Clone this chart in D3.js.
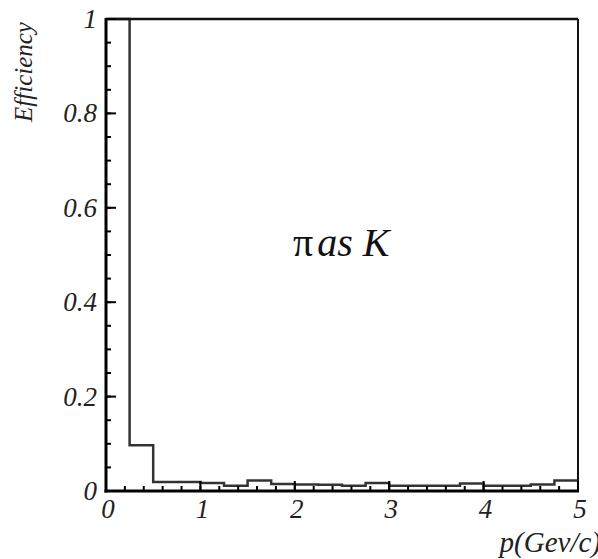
<!DOCTYPE html>
<meta charset="utf-8">
<title>pi as K efficiency</title>
<style>
  body { margin: 0; background: #fff; }
</style>
<body>
<script src="https://cdn.jsdelivr.net/npm/d3@7"></script>
<script>
// histogram, bins of 0.25 GeV/c from 0 to 5
var binStart = [0, 0.25, 0.5, 0.75, 1, 1.25, 1.5, 1.75, 2, 2.25,
                2.5, 2.75, 3, 3.25, 3.5, 3.75, 4, 4.25, 4.5, 4.75];
var efficiency = [1.0, 0.097, 0.019, 0.019, 0.017, 0.011, 0.022, 0.015, 0.014, 0.013,
                  0.011, 0.017, 0.011, 0.011, 0.011, 0.016, 0.011, 0.011, 0.014, 0.022];
var binWidth = 0.25;
var xTicks = [0, 1, 2, 3, 4, 5];
var yTicks = [0, 0.2, 0.4, 0.6, 0.8, 1];
var yLabels = ['0', '0.2', '0.4', '0.6', '0.8', '1'];

var W = 598, H = 559;
var pLeft = 106, pRight = 578, pTop = 19, pBottom = 491;
var serif = '"Liberation Serif", "Times New Roman", Times, serif';

var svg = d3.select('body').append('svg')
  .attr('width', W)
  .attr('height', H);

var x = d3.scaleLinear().domain([0, 5]).range([pLeft, pRight]);
var y = d3.scaleLinear().domain([0, 1]).range([pBottom, pTop]);

// histogram outline
var pts = binStart.map(function(d, i) { return [d, efficiency[i]]; });
pts.push([binStart[binStart.length - 1] + binWidth, efficiency[efficiency.length - 1]]);
var step = d3.line()
  .x(function(d) { return x(d[0]); })
  .y(function(d) { return y(d[1]); })
  .curve(d3.curveStepAfter);
svg.append('path')
  .attr('d', step(pts))
  .style('fill', 'none')
  .style('stroke', '#333')
  .style('stroke-width', 2.5);

// frame top / right
svg.append('line')
  .attr('x1', pLeft).attr('x2', pRight).attr('y1', pTop).attr('y2', pTop)
  .style('stroke', '#111').style('stroke-width', 2.5);
svg.append('line')
  .attr('x1', pRight).attr('x2', pRight).attr('y1', pTop).attr('y2', pBottom)
  .style('stroke', '#111').style('stroke-width', 2);

// minor ticks
var yMinor = d3.range(0, 1.0001, 0.05);
svg.selectAll('.ymin').data(yMinor).enter().append('line')
  .attr('x1', pLeft).attr('x2', pLeft + 5)
  .attr('y1', function(d) { return y(d); }).attr('y2', function(d) { return y(d); })
  .style('stroke', '#000').style('stroke-width', 2);
var xMinor = d3.range(0, 5.0001, 0.2);
svg.selectAll('.xmin').data(xMinor).enter().append('line')
  .attr('x1', function(d) { return x(d); }).attr('x2', function(d) { return x(d); })
  .attr('y1', pBottom).attr('y2', pBottom - 5)
  .style('stroke', '#000').style('stroke-width', 2);

// major ticks
svg.selectAll('.ymaj').data(yTicks).enter().append('line')
  .attr('x1', pLeft).attr('x2', pLeft + 10)
  .attr('y1', function(d) { return y(d); }).attr('y2', function(d) { return y(d); })
  .style('stroke', '#000').style('stroke-width', 2);
svg.selectAll('.xmaj').data(xTicks).enter().append('line')
  .attr('x1', function(d) { return x(d); }).attr('x2', function(d) { return x(d); })
  .attr('y1', pBottom).attr('y2', pBottom - 10)
  .style('stroke', '#000').style('stroke-width', 2);

// axes
svg.append('line')
  .attr('x1', pLeft).attr('x2', pLeft).attr('y1', pTop - 1).attr('y2', pBottom + 1.5)
  .style('stroke', '#000').style('stroke-width', 3);
svg.append('line')
  .attr('x1', pLeft - 1.5).attr('x2', pRight + 1).attr('y1', pBottom).attr('y2', pBottom)
  .style('stroke', '#000').style('stroke-width', 3);

// tick labels
svg.selectAll('.ylab').data(yTicks).enter().append('text')
  .attr('x', pLeft - 9)
  .attr('y', function(d) { return y(d) + 9; })
  .style('font-family', serif)
  .style('text-anchor', 'end')
  .style('font-style', 'italic')
  .style('font-size', '27px')
  .style('fill', '#222')
  .text(function(d, i) { return yLabels[i]; });
svg.selectAll('.xlab').data(xTicks).enter().append('text')
  .attr('x', function(d) { return x(d) + 2; })
  .attr('y', pBottom + 27)
  .style('font-family', serif)
  .style('text-anchor', 'middle')
  .style('font-style', 'italic')
  .style('font-size', '27px')
  .style('fill', '#222')
  .text(function(d) { return d; });

// axis titles
svg.append('text')
  .attr('transform', 'translate(32,' + 72 + ') rotate(-90)')
  .style('font-family', serif)
  .style('text-anchor', 'middle')
  .style('font-style', 'italic')
  .style('font-size', '25px')
  .style('fill', '#222')
  .text('Efficiency');
svg.append('text')
  .attr('x', 601)
  .attr('y', 552)
  .style('font-family', serif)
  .style('text-anchor', 'end')
  .style('font-style', 'italic')
  .style('font-size', '29px')
  .style('fill', '#222')
  .text('p(Gev/c)');

// label inside plot
var lab = svg.append('text')
  .attr('x', 293)
  .attr('y', 256)
  .style('font-family', serif)
  .style('font-size', '40px')
  .style('fill', '#111');
lab.append('tspan').text('\u03c0');
lab.append('tspan').attr('dx', 4).style('font-style', 'italic').text('as K');
</script>
</body>
